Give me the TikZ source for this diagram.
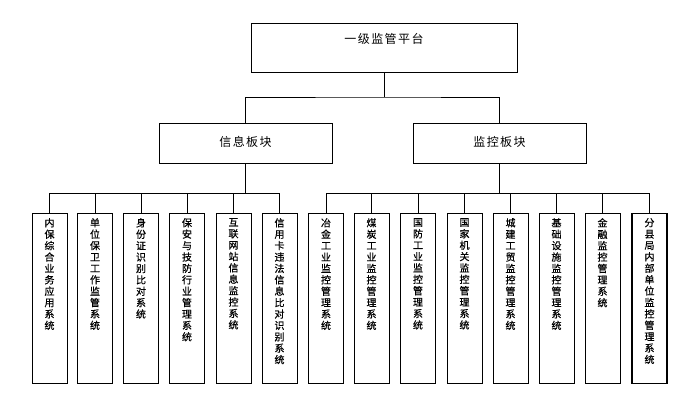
\documentclass[tikz,border=0pt]{standalone}
\usepackage{fontspec}
\setmainfont{Noto Sans CJK SC}[FakeBold=0.6]
\newfontfamily\plaincjk{Noto Sans CJK SC}[LetterSpace=12]
\ExplSyntaxOn
\NewDocumentCommand\vt{m}{
  \seq_clear:N \l_tmpa_seq
  \tl_map_inline:nn {#1} {\seq_put_right:Nn \l_tmpa_seq {##1}}
  \seq_use:Nn \l_tmpa_seq {\\}
}
\ExplSyntaxOff
\tikzset{
  boxline/.style={draw, line width=1pt},
  topbox/.style={boxline, minimum width=266pt, minimum height=49pt, anchor=north, inner sep=0pt},
  midbox/.style={boxline, minimum width=173pt, minimum height=40pt, anchor=north, inner sep=0pt},
  leaf/.style={boxline, minimum width=35pt, minimum height=170pt, anchor=north, inner sep=0pt},
  bigtxt/.style={font=\plaincjk\fontsize{12}{14}\selectfont},
  leaftxt/.style={anchor=north, align=center, inner sep=0pt, yshift=-5pt,
    font=\fontsize{10}{11.4}\selectfont},
  conn/.style={line width=1pt},
}
\begin{document}
\begin{tikzpicture}[x=1pt,y=-1pt]
\useasboundingbox[fill=white] (0,0) rectangle (700,400);
\node[topbox, label={[bigtxt, anchor=center, yshift=-16pt]north:一级监管平台}] (top) at (384,23) {};
\node[midbox, bigtxt] (L) at (245.5,123) {\raisebox{4pt}{信息板块}};
\node[midbox, bigtxt] (R) at (499.5,123) {\raisebox{4pt}{监控板块}};
\coordinate (tb) at (384,97);
\draw[conn] (top.south) -- (tb);
\draw[conn] (L.north) |- (tb) -| (R.north);
% left leaves
\node[leaf, label={[leaftxt]north:\vt{内保综合业务应用系统}}] (l1) at (49.5,213) {};
\node[leaf, label={[leaftxt]north:\vt{单位保卫工作监管系统}}] (l2) at (95,213) {};
\node[leaf, label={[leaftxt]north:\vt{身份证识别比对系统}}] (l3) at (141,213) {};
\node[leaf, label={[leaftxt]north:\vt{保安与技防行业管理系统}}] (l4) at (187,213) {};
\node[leaf, label={[leaftxt]north:\vt{互联网站信息监控系统}}] (l5) at (233.5,213) {};
\node[leaf, label={[leaftxt]north:\vt{信用卡违法信息比对识别系统}}] (l6) at (279.5,213) {};
% right leaves
\node[leaf, label={[leaftxt]north:\vt{冶金工业监控管理系统}}] (r1) at (326,213) {};
\node[leaf, label={[leaftxt]north:\vt{煤炭工业监控管理系统}}] (r2) at (371.5,213) {};
\node[leaf, label={[leaftxt]north:\vt{国防工业监控管理系统}}] (r3) at (418,213) {};
\node[leaf, label={[leaftxt]north:\vt{国家机关监控管理系统}}] (r4) at (464.5,213) {};
\node[leaf, label={[leaftxt]north:\vt{城建工贸监控管理系统}}] (r5) at (510.5,213) {};
\node[leaf, label={[leaftxt]north:\vt{基础设施监控管理系统}}] (r6) at (556.5,213) {};
\node[leaf, label={[leaftxt]north:\vt{金融监控管理系统}}] (r7) at (602.5,213) {};
\node[leaf, line width=1.4pt, label={[leaftxt]north:\vt{分县局内部单位监控管理系统}}] (r8) at (649.5,213) {};
\coordinate (lb) at (245.5,193);
\coordinate (rb) at (499.5,193);
\draw[conn] (L.south) -- (lb);
\draw[conn] (R.south) -- (rb);
\foreach \n in {l1,l2,l3,l4,l5,l6} \draw[conn] (lb) -| (\n.north);
\foreach \n in {r1,r2,r3,r4,r5,r6,r7,r8} \draw[conn] (rb) -| (\n.north);
\end{tikzpicture}
\end{document}
